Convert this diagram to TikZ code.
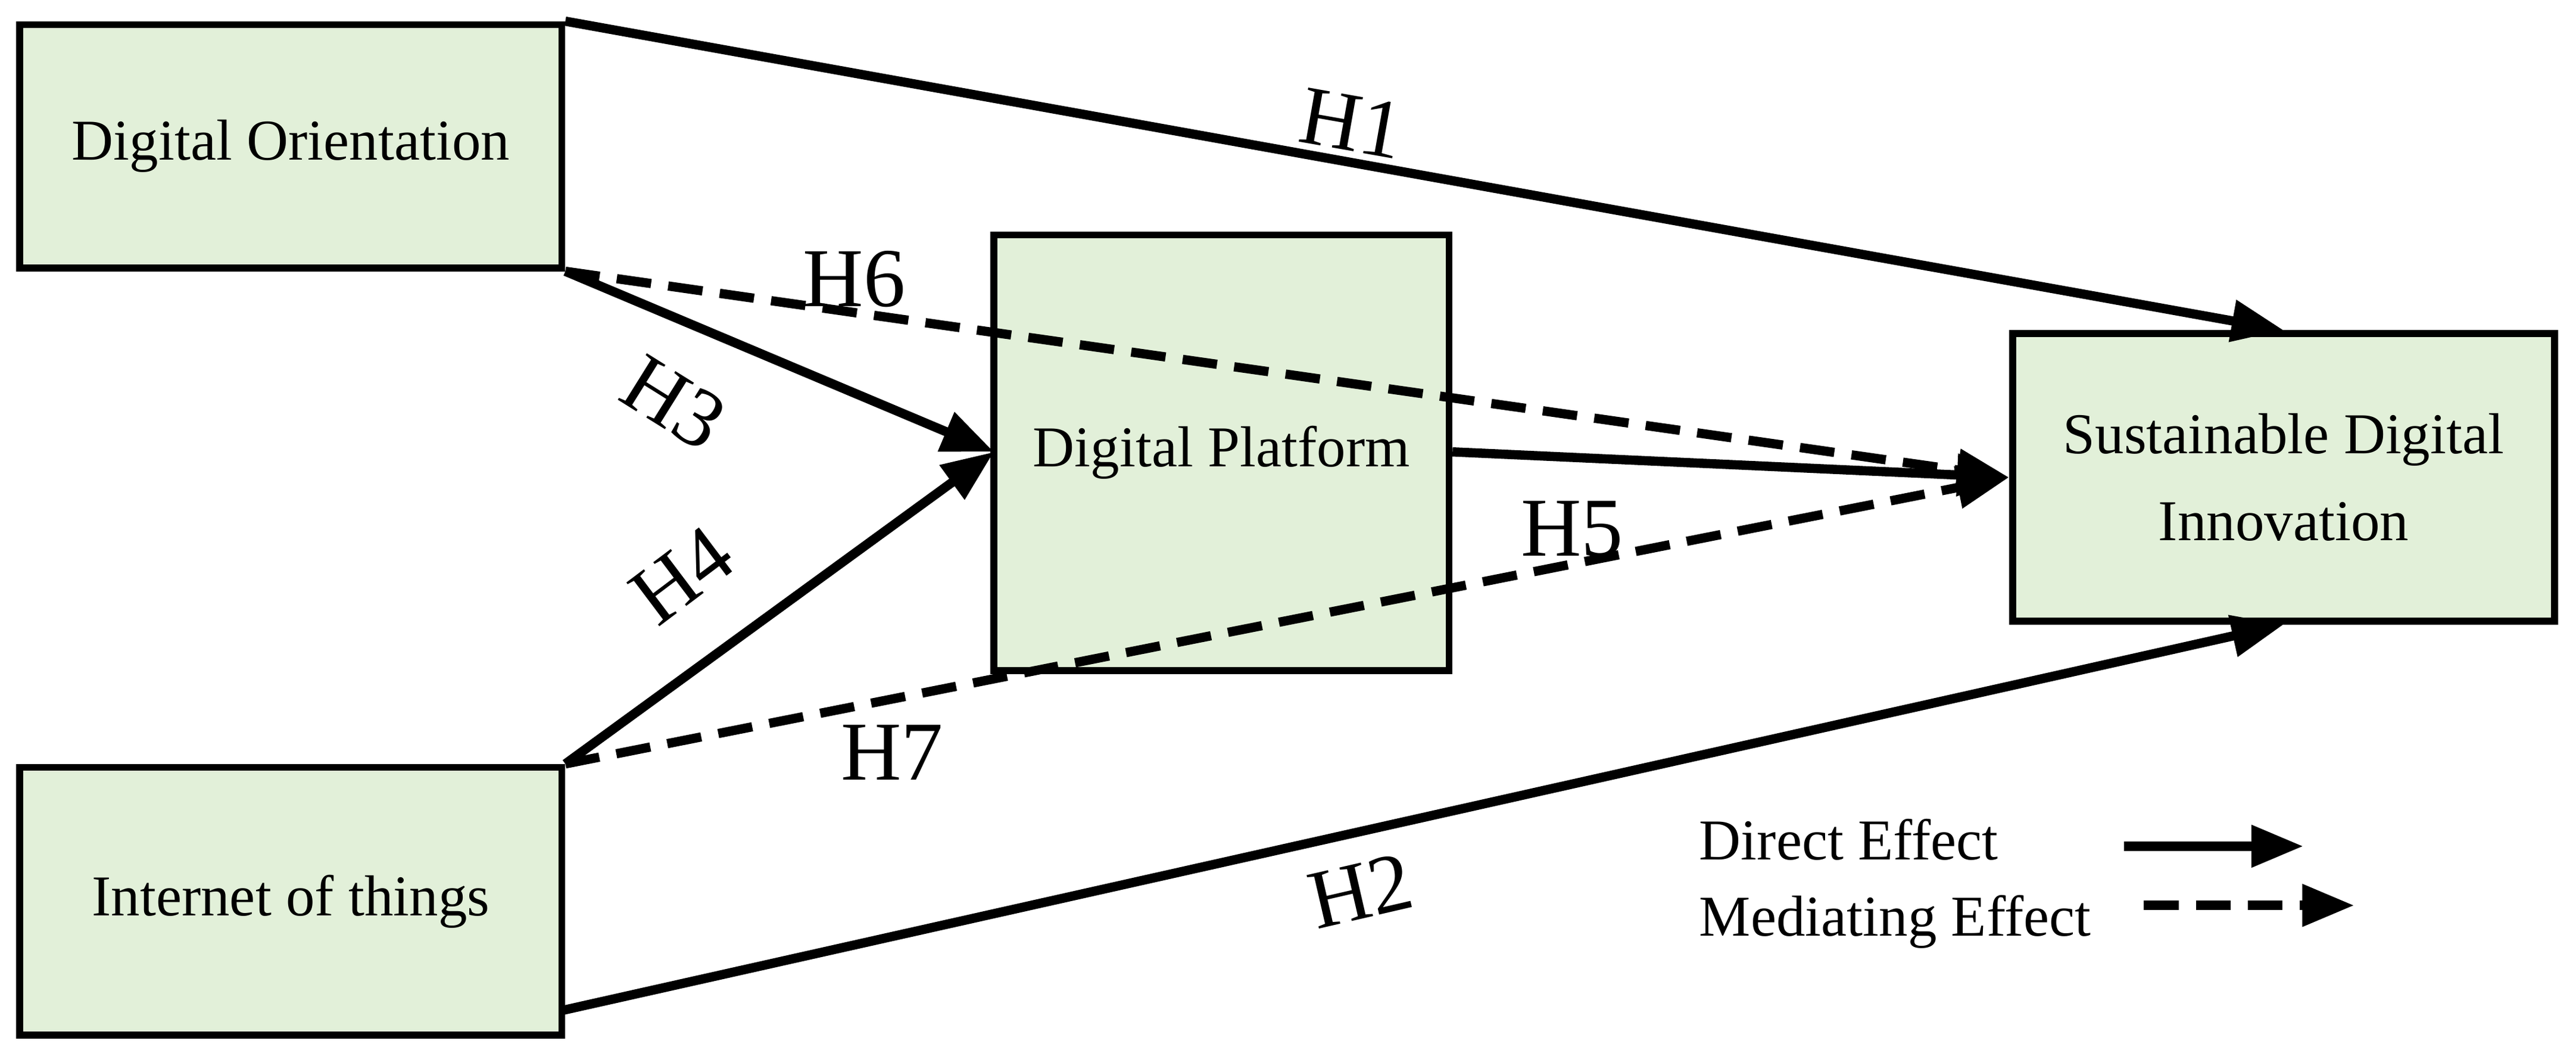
\documentclass[tikz,border=0pt]{standalone}
\usepackage{fontspec}
\setmainfont{Liberation Serif}
\usetikzlibrary{arrows.meta,calc}

\definecolor{boxfill}{HTML}{E2F0D9}
\tikzset{
  box/.style={draw, line width=1.2pt, fill=boxfill, align=center, font=\fontsize{10}{15}\selectfont},
  direct/.style={line width=1.6pt, -{Triangle[length=9pt,width=7pt]}},
  mediating/.style={direct, dash pattern=on 6pt off 3pt},
  hyp/.style={font=\fontsize{14.5}{16}\selectfont}
}

\begin{document}
\begin{tikzpicture}[x=1cm,y=-1cm]
\useasboundingbox (0,0) rectangle (15.68,6.37);

\node[box, minimum width=3.3cm, minimum height=1.48cm] (do) at (1.77,0.89) {Digital Orientation};
\node[box, minimum width=3.3cm, minimum height=1.63cm] (iot) at (1.77,5.485) {Internet of things};
\node[box, minimum width=2.77cm, minimum height=2.65cm] (dp) at (7.435,2.755) {Digital Platform};
\node[box, minimum width=3.3cm, minimum height=1.75cm] (sdi) at (13.9,2.905) {Sustainable Digital\\Innovation};

\coordinate (dpin) at (6.05,2.75);
\coordinate (iotlow) at (3.42,6.15);

\draw[direct] (do.north east) -- (sdi.north);
\draw[mediating] (do.south east) -- (sdi.west);
\draw[direct] (do.south east) -- (dpin);
\draw[direct] (iot.north east) -- (dpin);
\draw[mediating] (iot.north east) -- (sdi.west);
\draw[direct] (dp.east |- dpin) -- (sdi.west);
\draw[direct] (iotlow) -- (sdi.south);

\node[hyp, rotate=-10] (h1) at (8.23,0.75) {H1};
\node[hyp] (h6) at (5.2,1.7) {H6};
\node[hyp, rotate=-32] (h3) at (4.1,2.45) {H3};
\node[hyp, rotate=37] (h4) at (4.15,3.5) {H4};
\node[hyp] (h5) at (9.57,3.22) {H5};
\node[hyp] (h7) at (5.43,4.58) {H7};
\node[hyp, rotate=13] (h2) at (8.28,5.42) {H2};

\node[anchor=west, font=\fontsize{10}{12}\selectfont] (ld) at (10.22,5.11) {Direct Effect};
\node[anchor=west, font=\fontsize{10}{12}\selectfont] (lm) at (10.22,5.61) {Mediating Effect};
\coordinate (lda) at (12.93,5.15);
\coordinate (ldb) at (14.02,5.15);
\coordinate (lma) at (13.05,5.51);
\coordinate (lmb) at (14.33,5.51);
\draw[direct] (lda) -- (ldb);
\draw[mediating] (lma) -- (lmb);
\end{tikzpicture}
\end{document}
